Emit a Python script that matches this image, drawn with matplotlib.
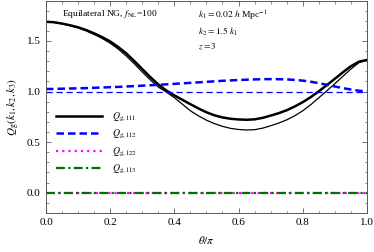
import matplotlib
matplotlib.use("Agg")
import matplotlib.pyplot as plt
from matplotlib.ticker import MultipleLocator

# theta / pi grid and curve values
theta = [0.000, 0.025, 0.050, 0.075, 0.100, 0.125, 0.150, 0.175, 0.200, 0.225,
         0.250, 0.275, 0.300, 0.325, 0.350, 0.375, 0.400, 0.425, 0.450, 0.475,
         0.500, 0.525, 0.550, 0.575, 0.600, 0.625, 0.650, 0.675, 0.700, 0.725,
         0.750, 0.775, 0.800, 0.825, 0.850, 0.875, 0.900, 0.925, 0.950, 0.975,
         1.000]
q111 = [1.690, 1.685, 1.672, 1.655, 1.635, 1.608, 1.575, 1.538, 1.495, 1.440,
        1.378, 1.302, 1.222, 1.143, 1.070, 1.010, 0.962, 0.918, 0.875, 0.833,
        0.795, 0.765, 0.744, 0.731, 0.724, 0.721, 0.725, 0.740, 0.762, 0.786,
        0.815, 0.852, 0.895, 0.945, 1.002, 1.063, 1.126, 1.190, 1.250, 1.295,
        1.312]
q111_thin = [1.690, 1.684, 1.670, 1.652, 1.630, 1.600, 1.565, 1.525, 1.478, 1.420,
             1.352, 1.275, 1.193, 1.115, 1.045, 0.995, 0.940, 0.875, 0.810, 0.760,
             0.717, 0.683, 0.656, 0.636, 0.625, 0.620, 0.623, 0.638, 0.662, 0.688,
             0.720, 0.760, 0.810, 0.870, 0.938, 1.007, 1.077, 1.150, 1.222, 1.285,
             1.312]
q112 = [1.025, 1.026, 1.028, 1.030, 1.032, 1.034, 1.037, 1.040, 1.043, 1.046,
        1.050, 1.054, 1.058, 1.062, 1.067, 1.071, 1.076, 1.081, 1.086, 1.091,
        1.096, 1.101, 1.106, 1.110, 1.114, 1.117, 1.120, 1.122, 1.123, 1.122,
        1.120, 1.115, 1.108, 1.097, 1.083, 1.067, 1.050, 1.034, 1.020, 1.008,
        1.000]
q112_thin = [1.0] * len(theta)
q122 = [0.0] * len(theta)
q113 = [0.0] * len(theta)

plt.rcParams["font.family"] = "Liberation Serif"
plt.rcParams["mathtext.fontset"] = "stix"

fig = plt.figure(figsize=(3.74, 2.52), dpi=100)
ax = fig.add_axes([0.123, 0.155, 0.858, 0.843])

ax.plot(theta, q111, color="black", lw=1.8, label=r"$Q_{\rm g,111}$")
ax.plot(theta, q111_thin, color="black", lw=0.9)
ax.plot(theta, q112, color="blue", lw=1.8, ls=(0, (3, 1.6)), label=r"$Q_{\rm g,112}$")
ax.plot(theta, q112_thin, color="blue", lw=0.9, ls=(0, (5, 3)))
ax.plot(theta, q122, color="magenta", lw=1.6, ls=(0, (1, 1.8)), label=r"$Q_{\rm g,122}$")
ax.plot(theta, q113, color="#007000", lw=1.6, ls=(0, (4, 1.5, 1, 1.5)), label=r"$Q_{\rm g,113}$")

ax.set_xlim(0, 1)
ax.set_ylim(-0.2, 1.9)
ax.xaxis.set_major_locator(MultipleLocator(0.2))
ax.xaxis.set_minor_locator(MultipleLocator(0.05))
ax.yaxis.set_major_locator(MultipleLocator(0.5))
ax.yaxis.set_minor_locator(MultipleLocator(0.1))
ax.tick_params(which="both", direction="in", top=True, right=True, color="0.35",
               labelsize=8)
ax.tick_params(which="major", length=3.5, width=0.6, pad=4)
ax.tick_params(which="minor", length=1.8, width=0.5)
for s in ax.spines.values():
    s.set_color("0.35")
    s.set_linewidth(0.7)

ax.set_xlabel(r"$\theta/\pi$", fontsize=8, labelpad=5)
ax.set_ylabel(r"$Q_{\rm g}(k_1,k_2,k_3)$", fontsize=8, labelpad=3)

ax.text(0.2, 1.77, r"Equilateral NG, $f_{\rm NL}$=100", fontsize=6.8, ha="center", va="center")
ax.text(0.475, 1.75, r"$k_1 = 0.02\ h$ Mpc$^{-1}$", fontsize=6.8, va="center")
ax.text(0.475, 1.59, r"$k_2 = 1.5\ k_1$", fontsize=6.8, va="center")
ax.text(0.475, 1.44, r"$z = 3$", fontsize=6.8, va="center")

ax.legend(loc="upper left", bbox_to_anchor=(0.015, 0.505), frameon=False, fontsize=7,
          handlelength=4.8, handletextpad=1.0, labelspacing=0.45, borderpad=0)

fig.savefig("out.png", dpi=100)
